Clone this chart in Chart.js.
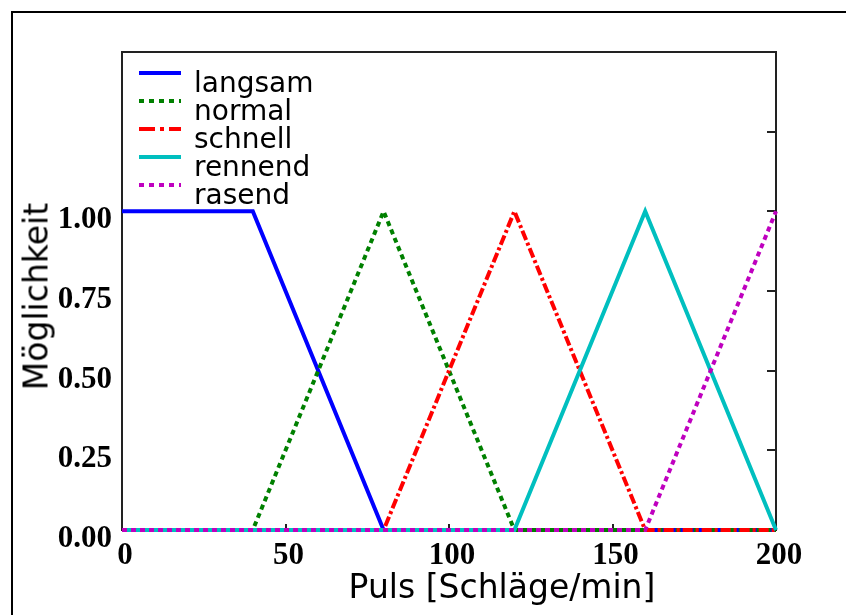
<!DOCTYPE html>
<html>
<head>
<meta charset="utf-8">
<script src="https://cdn.jsdelivr.net/npm/chart.js@4"></script>
<style>
  html, body { margin: 0; padding: 0; background: #fff; }
  body { width: 846px; height: 615px; position: relative; overflow: hidden; }
  #frame { position: absolute; left: 11px; top: 11px; width: 900px; height: 700px;
           border-top: 2px solid #000; border-left: 2px solid #000; }
  #wrap { position: absolute; left: 0; top: 0; width: 846px; height: 615px; }
  #legend { position: absolute; left: 139px; top: 69px; }
  .row { position: relative; height: 28px; }
  .row svg { position: absolute; left: 0; top: 0; }
  .row span { position: absolute; left: 55px; top: 0; font: 28px "DejaVu Sans", sans-serif;
              line-height: 28px; color: #000; white-space: nowrap; }
  .axtitle { position: absolute; font: 33px "DejaVu Sans", sans-serif; line-height: 33px;
             height: 33px; width: 400px; text-align: center; color: #000; white-space: nowrap; }
  #xtitle { left: 302px; top: 570px; }
  #ytitle { left: -164px; top: 280px; transform: rotate(-90deg); transform-origin: 200px 16.5px; }
</style>
</head>
<body>
<div id="frame"></div>
<div id="wrap"><canvas id="chart" width="846" height="615"></canvas></div>
<div id="legend"></div>
<div class="axtitle" id="xtitle">Puls [Schläge/min]</div>
<div class="axtitle" id="ytitle">Möglichkeit</div>
<script>
// Puls breakpoints (x) and membership per set
const pulse = [0, 40, 80, 120, 160, 200];
const langsam = [1, 1, 0, 0, 0, 0];
const normal = [0, 0, 1, 0, 0, 0];
const schnell = [0, 0, 0, 1, 0, 0];
const rennend = [0, 0, 0, 0, 1, 0];
const rasend = [0, 0, 0, 0, 0, 1];

const seriesNames = ["langsam", "normal", "schnell", "rennend", "rasend"];
const seriesValues = [langsam, normal, schnell, rennend, rasend];
const seriesColors = ["#0000ff", "#008000", "#ff0000", "#00bfbf", "#bf00bf"];
const seriesDash = [[], [5, 4], [10, 3, 3, 3], [], [5, 4]];
const legendDash = [[], [5, 5], [16, 5, 4, 5], [], [5, 5]];

const xTicks = [0, 50, 100, 150, 200];
const yTicks = [0, 0.25, 0.5, 0.75, 1];
const yMarks = [0, 0.25, 0.5, 0.75, 1, 1.25, 1.5];

const datasets = seriesNames.map((name, i) => ({
  label: name,
  data: pulse.map((p, j) => ({ x: p, y: seriesValues[i][j] })),
  borderColor: seriesColors[i],
  borderDash: seriesDash[i],
  borderWidth: 4,
  borderCapStyle: "butt",
  pointRadius: 0,
  tension: 0,
  clip: false,
  order: seriesNames.length - i // later series on top
}));

// frame + inward ticks on right and bottom
const framePlugin = {
  id: "frame",
  beforeDatasetsDraw(chart) {
    const { ctx, chartArea: a, scales } = chart;
    ctx.save();
    ctx.strokeStyle = "#222";
    ctx.lineWidth = 2;
    ctx.strokeRect(a.left, a.top, a.right - a.left, a.bottom - a.top);
    ctx.beginPath();
    scales.y.ticks.forEach((t) => {
      if (t.value <= 0 || t.value >= 1.5) return;
      const y = Math.round(scales.y.getPixelForValue(t.value));
      ctx.moveTo(a.right - 9, y);
      ctx.lineTo(a.right, y);
    });
    scales.x.ticks.forEach((t) => {
      if (t.value <= 0 || t.value >= 200) return;
      const x = Math.round(scales.x.getPixelForValue(t.value));
      ctx.moveTo(x, a.bottom - 6);
      ctx.lineTo(x, a.bottom);
    });
    ctx.stroke();
    ctx.restore();
  }
};

new Chart(document.getElementById("chart"), {
  type: "line",
  data: { datasets },
  plugins: [framePlugin],
  options: {
    responsive: false,
    animation: false,
    layout: { padding: { top: 52, right: 70, left: 0, bottom: 0 } },
    plugins: { legend: { display: false }, tooltip: { enabled: false } },
    scales: {
      x: {
        type: "linear",
        min: 0,
        max: 200,
        afterFit: (s) => { s.height = 85; },
        afterBuildTicks: (s) => { s.ticks = xTicks.map((v) => ({ value: v })); },
        grid: { display: false, drawTicks: false },
        border: { display: false },
        ticks: {
          color: "#000",
          padding: 7,
          labelOffset: 3,
          maxRotation: 0,
          font: { family: "'Liberation Serif', serif", size: 31, weight: "bold" }
        }
      },
      y: {
        min: 0,
        max: 1.5,
        afterFit: (s) => { s.width = 122; },
        afterBuildTicks: (s) => { s.ticks = yMarks.map((v) => ({ value: v })); },
        grid: { display: false, drawTicks: false },
        border: { display: false },
        ticks: {
          color: "#000",
          padding: 10,
          labelOffset: 9,
          font: { family: "'Liberation Serif', serif", size: 31, weight: "bold" },
          callback: (v) => (yTicks.includes(v) ? v.toFixed(2) : "")
        }
      }
    }
  }
});

// legend as html
const legendEl = document.getElementById("legend");
seriesNames.forEach((name, i) => {
  const row = document.createElement("div");
  row.className = "row";
  const dash = legendDash[i].length ? ` stroke-dasharray="${legendDash[i].join(" ")}"` : "";
  row.innerHTML =
    `<svg width="42" height="10"><line x1="0" y1="4" x2="42" y2="4" stroke="${seriesColors[i]}" stroke-width="4"${dash}/></svg>` +
    `<span>${name}</span>`;
  legendEl.appendChild(row);
});
</script>
</body>
</html>
